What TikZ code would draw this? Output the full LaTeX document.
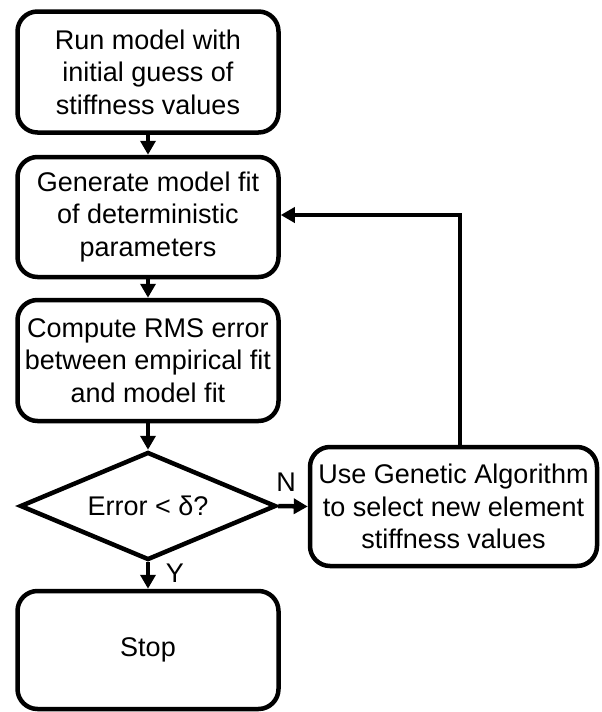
\documentclass[tikz,border=0pt]{standalone}
\usepackage{fontspec}
\setmainfont{Liberation Sans}
\usetikzlibrary{arrows.meta,shapes.geometric}

\tikzset{
  flow/.style={line width=4.5pt, -{Triangle[length=14pt,width=15pt]}},
  stepbox/.style={draw, line width=4.5pt, rounded corners=20pt, align=center,
    inner sep=0pt, font=\fontsize{27}{32.5}\selectfont},
  decision/.style={draw, diamond, line width=4.5pt, inner sep=0pt,
    font=\fontsize{27}{32.5}\selectfont},
  tag/.style={font=\fontsize{27}{32.5}\selectfont, inner sep=0pt}
}

\begin{document}
\begin{tikzpicture}[x=1pt,y=-1pt]
  \useasboundingbox (0,0) rectangle (602,712);

  \node[stepbox, minimum width=261pt, minimum height=121pt] (run) at (148,72)
    {Run model with\\initial guess of\\stiffness values};
  \node[stepbox, minimum width=261pt, minimum height=120pt] (gen) at (148,217)
    {Generate model fit\\of deterministic\\parameters};
  \node[stepbox, minimum width=261pt, minimum height=121pt] (rms) at (148,360.5)
    {Compute RMS error\\between empirical fit\\and model fit};
  \node[decision, minimum width=256pt, minimum height=108pt, aspect=2.37] (err) at (148,506)
    {Error < δ?};
  \node[stepbox, minimum width=261pt, minimum height=118pt] (stop) at (148,650)
    {Stop};
  \node[stepbox, minimum width=287pt, minimum height=119pt] (ga) at (453.5,506.5)
    {Use Genetic Algorithm\\to select new element\\stiffness values};

  \coordinate (up) at (460,215);

  \draw[flow] (run.south) -- (gen.north);
  \draw[flow] (gen.south) -- (rms.north);
  \draw[flow] (rms.south) -- (err.north);
  \draw[flow] (err.south) -- (stop.north);
  \draw[flow] (err.east) -- (ga.west);
  \draw[flow] (ga.north -| up) -- (up) -- (gen.east |- up);

  \node[tag] (nlab) at (286,482) {N};
  \node[tag] (ylab) at (175,573) {Y};
\end{tikzpicture}
\end{document}
